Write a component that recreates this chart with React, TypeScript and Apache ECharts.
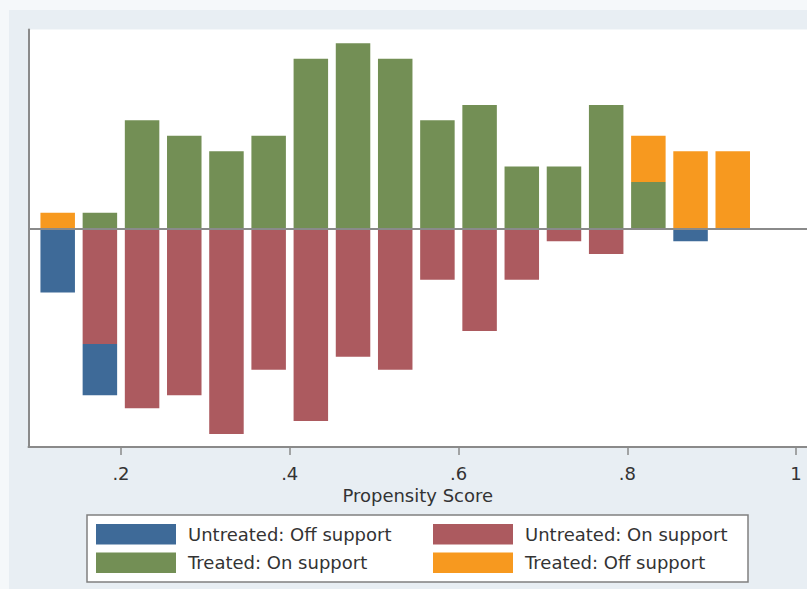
import React, { useEffect, useRef } from "react";
import * as echarts from "echarts";

// Bin centers of the propensity-score histogram
const binCenters = [
  0.125, 0.175, 0.225, 0.275, 0.325, 0.375, 0.425, 0.475, 0.525, 0.575,
  0.625, 0.675, 0.725, 0.775, 0.825, 0.875, 0.925,
];
// Untreated (drawn below zero)
const untreatedOn = [0, -9, -14, -13, -16, -11, -15, -10, -11, -4, -8, -4, -1, -2, 0, 0, 0];
const untreatedOff = [-5, -4, 0, 0, 0, 0, 0, 0, 0, 0, 0, 0, 0, 0, 0, -1, 0];
// Treated (drawn above zero)
const treatedOn = [0, 1.2, 8.4, 7.2, 6.0, 7.2, 13.2, 14.4, 13.2, 8.4, 9.6, 4.8, 4.8, 9.6, 3.6, 0, 0];
const treatedOff = [1.2, 0, 0, 0, 0, 0, 0, 0, 0, 0, 0, 0, 0, 0, 3.6, 6.0, 6.0];
const xTicks = [0.2, 0.4, 0.6, 0.8, 1];

const FONT = "DejaVu Sans";
const COLORS = {
  uOff: "#3e6a98",
  uOn: "#ac5a5f",
  tOn: "#738f55",
  tOff: "#f7991f",
};

export default function App() {
  const ref = useRef<HTMLDivElement>(null);

  useEffect(() => {
    if (!ref.current) return;
    const chart = echarts.init(ref.current, undefined, { renderer: "svg" });
    // data rows are [value, binCenter] so that the stacked dimension is the y value
    const mk = (name: string, arr: number[], color: string, extra: any = {}) => ({
      name,
      type: "bar",
      stack: "all",
      barWidth: 34.5,
      encode: { x: 1, y: 0 },
      data: binCenters.map((x, i) => [arr[i], x]),
      itemStyle: { color, borderWidth: 0 },
      emphasis: { disabled: true },
      ...extra,
    });
    const legendBase = {
      orient: "vertical",
      top: 524,
      padding: 0,
      itemWidth: 80,
      itemHeight: 20.5,
      itemGap: 8,
      icon: "rect",
      selectedMode: false,
      textStyle: { fontSize: 18, color: "#333", fontFamily: FONT, padding: [0, 0, 0, 7] },
    };
    chart.setOption({
      animation: false,
      backgroundColor: "#e8eef3",
      textStyle: { fontFamily: FONT },
      graphic: [
        { type: "rect", z: 0, shape: { x: 0, y: 0, width: 807, height: 10 }, style: { fill: "#f5f8fa" } },
        { type: "rect", z: 0, shape: { x: 0, y: 0, width: 9, height: 589 }, style: { fill: "#f5f8fa" } },
        {
          type: "rect",
          z: 0,
          shape: { x: 87, y: 515, width: 661, height: 67 },
          style: { fill: "#ffffff", stroke: "#808080", lineWidth: 1.5 },
        },
      ],
      grid: {
        left: 28.5,
        right: 0,
        top: 29.5,
        bottom: 142,
        show: true,
        backgroundColor: "#ffffff",
        borderWidth: 0,
      },
      legend: [
        { ...legendBase, left: 96, data: ["Untreated: Off support", "Treated: On support"] },
        { ...legendBase, left: 433, data: ["Untreated: On support", "Treated: Off support"] },
      ],
      xAxis: {
        type: "value",
        min: 0.0904,
        max: 1.013,
        name: "Propensity Score",
        nameLocation: "middle",
        nameGap: 37,
        nameTextStyle: { fontSize: 18, color: "#333", fontFamily: FONT },
        axisLine: { show: true, onZero: false, lineStyle: { color: "#8a8a8a", width: 2 } },
        axisTick: { show: true, length: 8, customValues: xTicks, lineStyle: { color: "#8a8a8a", width: 1.5 } },
        axisLabel: {
          customValues: xTicks,
          fontSize: 18,
          color: "#333",
          fontFamily: FONT,
          margin: 17,
          formatter: (v: number) => {
            const s = String(Number(v.toFixed(2)));
            return s.replace(/^0\./, ".");
          },
        },
        splitLine: { show: false },
      },
      yAxis: {
        type: "value",
        min: -17.02,
        max: 15.47,
        axisLine: { show: true, onZero: false, lineStyle: { color: "#8a8a8a", width: 2 } },
        axisTick: { show: false },
        axisLabel: { show: false },
        splitLine: { show: false },
      },
      series: [
        mk("Untreated: On support", untreatedOn, COLORS.uOn, {
          markLine: {
            silent: true,
            symbol: ["none", "none"],
            label: { show: false },
            lineStyle: { color: "#8a8a8a", width: 2, type: "solid" },
            data: [{ yAxis: 0 }],
          },
        }),
        mk("Untreated: Off support", untreatedOff, COLORS.uOff),
        mk("Treated: On support", treatedOn, COLORS.tOn),
        mk("Treated: Off support", treatedOff, COLORS.tOff),
      ],
    });
    return () => chart.dispose();
  }, []);

  return (
    <div
      ref={ref}
      style={{ position: "fixed", left: 0, top: 0, width: 807, height: 589 }}
    />
  );
}
